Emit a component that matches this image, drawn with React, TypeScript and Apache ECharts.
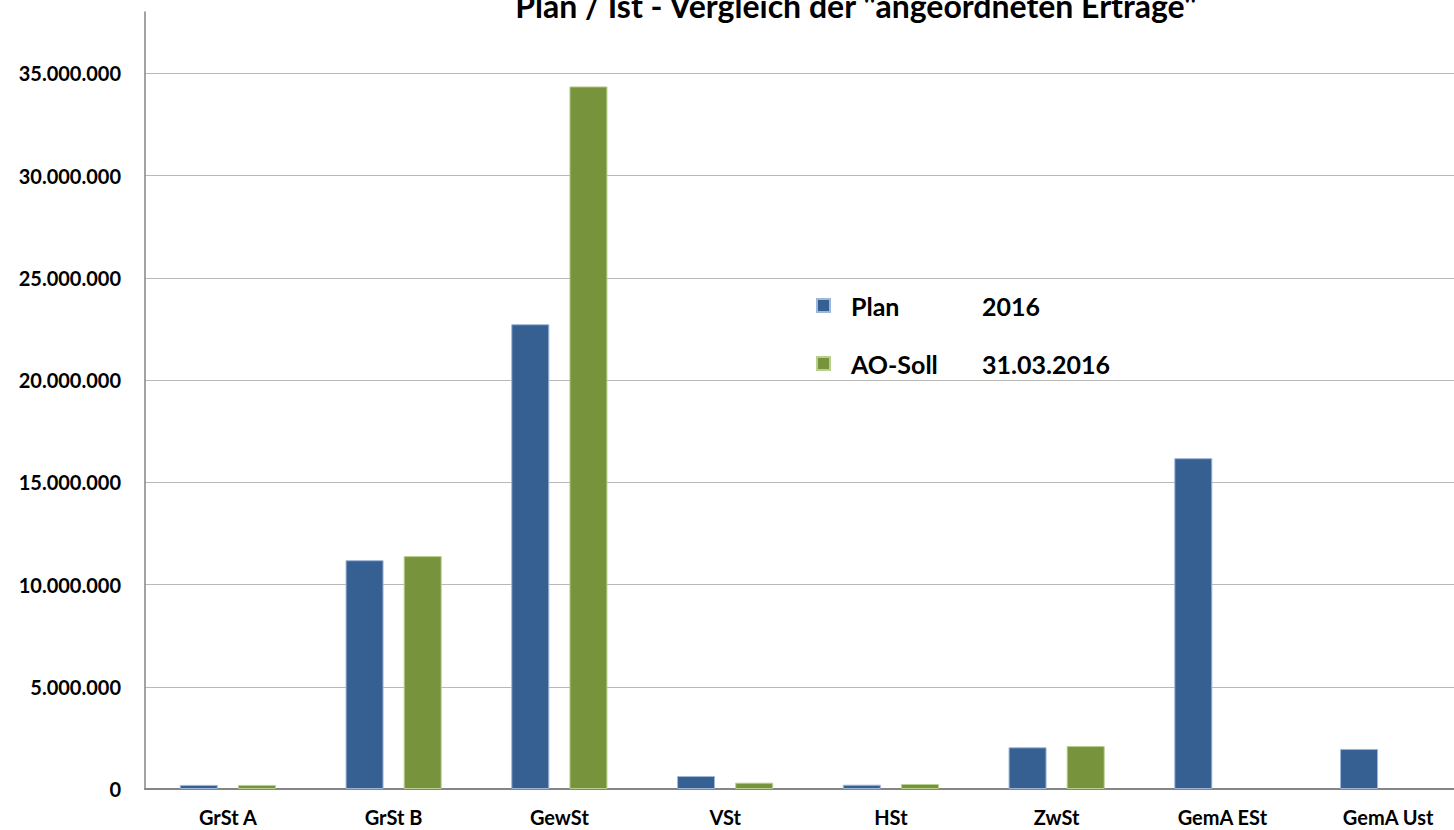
import React, { useEffect, useRef } from "react";
import * as echarts from "echarts";

const titleText = 'Plan / Ist - Vergleich der "angeordneten Erträge"';
const categories = ["GrSt A", "GrSt B", "GewSt", "VSt", "HSt", "ZwSt", "GemA ESt", "GemA Ust"];
const seriesNames = ["Plan", "AO-Soll"];
const legendDates = ["2016", "31.03.2016"];
const planValues = [200000, 11190000, 22730000, 635000, 210000, 2040000, 16180000, 1960000];
const aoSollValues = [200000, 11390000, 34360000, 310000, 245000, 2100000, null, null];
const yTicks = [0, 5000000, 10000000, 15000000, 20000000, 25000000, 30000000, 35000000];

const FONT = "Lato, 'Open Sans', sans-serif";

function fmt(v: number): string {
  return String(Math.round(v)).replace(/\B(?=(\d{3})+(?!\d))/g, ".");
}

export default function App() {
  const ref = useRef<HTMLDivElement>(null);
  useEffect(() => {
    if (!ref.current) return;
    const chart = echarts.init(ref.current, undefined, { renderer: "svg" });
    const gridColors = yTicks.map(() => "#b8b8b8");
    gridColors.push("rgba(0,0,0,0)");
    chart.setOption({
      animation: false,
      backgroundColor: "#ffffff",
      graphic: [
        {
          type: "text",
          x: 856,
          y: 5,
          style: {
            text: titleText,
            font: `bold 32px ${FONT}`,
            fill: "#000",
            align: "center",
            verticalAlign: "middle",
          },
        },
      ],
      legend: {
        orient: "vertical",
        left: 816,
        top: 293,
        padding: 0,
        itemWidth: 13,
        itemHeight: 13,
        itemGap: 33,
        icon: "rect",
        data: seriesNames,
        formatter: (name: string) => {
          const i = seriesNames.indexOf(name);
          return `{a|${name}}{b|${legendDates[i]}}`;
        },
        textStyle: {
          color: "#000",
          fontFamily: FONT,
          fontWeight: "bold",
          fontSize: 25,
          rich: {
            a: { width: 131, padding: [0, 0, 0, 16], fontFamily: FONT, fontWeight: "bold", fontSize: 25, lineHeight: 25, color: "#000" },
            b: { fontFamily: FONT, fontWeight: "bold", fontSize: 25, lineHeight: 25, color: "#000" },
          },
        },
      },
      grid: { left: 145, top: 12, width: 1326, height: 777, containLabel: false },
      xAxis: {
        type: "category",
        data: categories,
        axisLine: { show: true, lineStyle: { color: "#858585", width: 2 } },
        axisTick: { show: false },
        axisLabel: { color: "#000", fontFamily: FONT, fontWeight: "bold", fontSize: 20, margin: 18 },
      },
      yAxis: {
        type: "value",
        min: 0,
        max: 38000000,
        interval: 5000000,
        axisLine: { show: true, lineStyle: { color: "#858585", width: 1.5 } },
        axisTick: { show: false },
        splitLine: { show: true, lineStyle: { color: gridColors, width: 1 } },
        axisLabel: {
          color: "#000",
          fontFamily: FONT,
          fontWeight: "bold",
          fontSize: 20,
          margin: 24,
          showMaxLabel: false,
          formatter: (v: number) => (yTicks.indexOf(v) >= 0 ? fmt(v) : ""),
        },
      },
      series: [
        {
          name: seriesNames[0],
          type: "bar",
          data: planValues,
          barWidth: 38,
          barGap: "53%",
          itemStyle: { color: "#376092", borderColor: "#9fb6d8", borderWidth: 1 },
        },
        {
          name: seriesNames[1],
          type: "bar",
          data: aoSollValues,
          barWidth: 38,
          barGap: "53%",
          itemStyle: { color: "#77933c", borderColor: "#b9cf8f", borderWidth: 1 },
        },
      ],
    });
    return () => chart.dispose();
  }, []);
  return (
    <div style={{ position: "fixed", left: 0, top: 0, width: 1454, height: 830, overflow: "hidden", background: "#fff" }}>
      <div ref={ref} style={{ position: "absolute", left: 0, top: 0, width: 1490, height: 830 }} />
    </div>
  );
}
